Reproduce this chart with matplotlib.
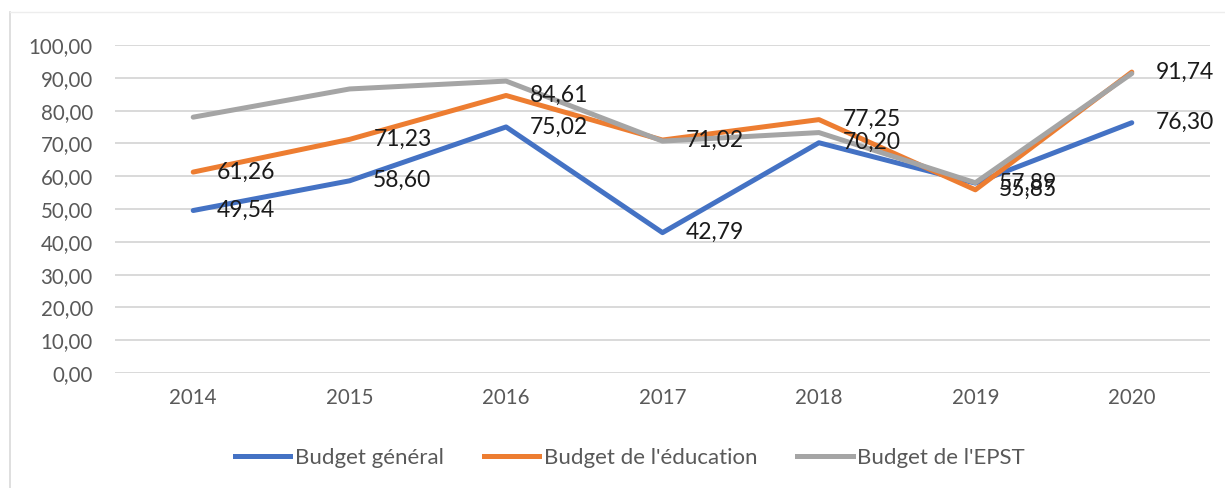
import matplotlib
matplotlib.use("Agg")
import matplotlib.pyplot as plt
from matplotlib.lines import Line2D

years = ["2014", "2015", "2016", "2017", "2018", "2019", "2020"]
budget_general = [49.54, 58.60, 75.02, 42.79, 70.20, 57.89, 76.30]
budget_education = [61.26, 71.23, 84.61, 71.02, 77.25, 55.85, 91.74]
budget_epst = [78.0, 86.6, 89.0, 70.7, 73.3, 58.0, 91.3]
series_names = ["Budget général", "Budget de l'éducation", "Budget de l'EPST"]
y_ticks = [0, 10, 20, 30, 40, 50, 60, 70, 80, 90, 100]

colors = ["#4472C4", "#ED7D31", "#A5A5A5"]
plt.rcParams['font.family'] = ['Lato', 'DejaVu Sans']

W, H = 1225, 488
fig = plt.figure(figsize=(W / 100, H / 100), dpi=100)
ax = fig.add_axes([115 / W, 1 - 373 / H, (1210 - 115) / W, (373 - 45) / H])

x = list(range(len(years)))
for vals, c in zip([budget_general, budget_education, budget_epst], colors):
    ax.plot(x, vals, color=c, lw=3.6, solid_capstyle='round', solid_joinstyle='round', zorder=3)

for vals in [budget_general, budget_education]:
    for xi, v in zip(x, vals):
        ax.annotate(f"{v:.2f}".replace(".", ","), (xi, v), xytext=(17, 0),
                    textcoords='offset points', ha='left', va='center',
                    fontsize=16.5, color='#1a1a1a', zorder=5, annotation_clip=False)

ax.set_xlim(-0.5, len(years) - 0.5)
ax.set_ylim(0, 100)
ax.set_yticks(y_ticks)
ax.set_yticklabels([f"{t:.2f}".replace(".", ",") for t in y_ticks])
ax.set_xticks(x)
ax.set_xticklabels(years)
ax.tick_params(axis='both', length=0, labelsize=14.8, colors='#595959')
ax.tick_params(axis='y', pad=16)
ax.tick_params(axis='x', pad=11)
ax.grid(axis='y', color='#D9D9D9', lw=1.4, zorder=0)
for s in ax.spines.values():
    s.set_visible(False)

handles = [Line2D([0], [0], color=c, lw=3.6) for c in colors]
fig.legend(handles, series_names, loc='center', bbox_to_anchor=(630 / W, 1 - 458 / H),
           ncol=3, frameon=False, fontsize=16, labelcolor='#595959',
           handlelength=2.5, handletextpad=0.2, columnspacing=1.8)

# faint chart border (left and top)
fig.add_artist(Line2D([10 / W, 10 / W], [0, 1 - 12 / H], color='#D9D9D9', lw=1.2))
fig.add_artist(Line2D([10 / W, 1], [1 - 12 / H, 1 - 12 / H], color='#EDEDED', lw=1.0))

fig.savefig("out.png", dpi=100, facecolor='white')
